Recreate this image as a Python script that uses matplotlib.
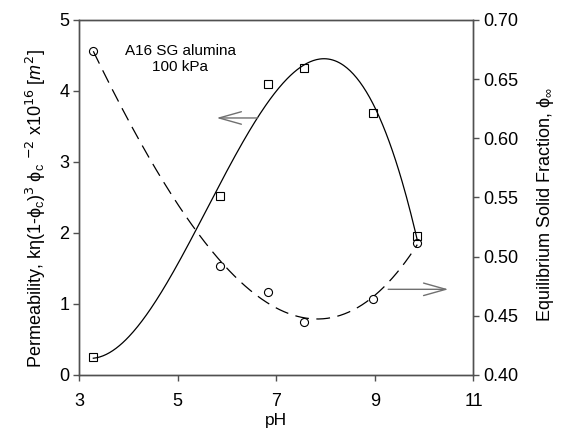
import numpy as np
import matplotlib
matplotlib.use("Agg")
import matplotlib.pyplot as plt

plt.rcParams['font.family'] = ['Liberation Sans', 'DejaVu Sans']
plt.rcParams['mathtext.fontset'] = 'custom'
plt.rcParams['mathtext.rm'] = 'Liberation Sans'
plt.rcParams['mathtext.it'] = 'Liberation Sans:italic'
plt.rcParams['mathtext.bf'] = 'Liberation Sans:bold'

# Data
ph = [3.29, 5.85, 6.84, 7.56, 8.97, 9.86]
permeability = [0.25, 2.52, 4.10, 4.32, 3.69, 1.96]
solid_fraction = [0.674, 0.492, 0.470, 0.4445, 0.464, 0.5115]
x_ticks = [3, 5, 7, 9, 11]
left_ticks = [0, 1, 2, 3, 4, 5]
right_ticks = [0.40, 0.45, 0.50, 0.55, 0.60, 0.65, 0.70]

fig = plt.figure(figsize=(5.62, 4.29), dpi=100)
ax = fig.add_axes([0.1406, 0.1259, 0.7019, 0.8275])
ax2 = ax.twinx()

spine_col = '#505050'

# fitted curves (least-squares polynomials through the data)
xs = np.linspace(min(ph), max(ph), 300)
p1 = np.polyfit(ph, permeability, 3)
p2 = np.polyfit(ph, solid_fraction, 3)
ax.plot(xs, np.polyval(p1, xs), color='black', lw=0.9)
ax.plot(ph, permeability, linestyle='none', marker='s', ms=5.4,
        mfc='none', mec='black', mew=0.8)
ax2.plot(xs, np.polyval(p2, xs), color='black', lw=0.9, dashes=(11, 6))
ax2.plot(ph, solid_fraction, linestyle='none', marker='o', ms=5.8,
         mfc='none', mec='black', mew=0.8)

ax.set_xlim(3, 11)
ax.set_ylim(0, 5)
ax2.set_ylim(0.40, 0.70)
ax.set_xticks(x_ticks)
ax.set_yticks(left_ticks)
ax2.set_yticks(right_ticks)
ax2.set_yticklabels([f"{v:.2f}" for v in right_ticks])

for a in (ax, ax2):
    for s in a.spines.values():
        s.set_color(spine_col)
        s.set_linewidth(1.0)
    a.tick_params(direction='out', length=4, width=1.0, color=spine_col,
                  labelsize=13, pad=3)
ax.tick_params(axis='x', pad=9)

ax.set_xlabel('pH', fontsize=12.5, labelpad=2)
ax.set_ylabel(r'Permeability, kη(1-ϕ$_{\rm c}$)$^{\mathsf{3}}$ ϕ$_{\rm c}$ $^{\mathsf{-2}}$ x10$^{\mathsf{16}}$ [$m^{\mathsf{2}}$]',
              fontsize=13, labelpad=8)
ax.yaxis.label.set_y(0.47)
ax2.set_ylabel(r'Equilibrium Solid Fraction, ϕ$_\infty$', fontsize=13, labelpad=12)
ax2.yaxis.label.set_y(0.48)

ax.text(5.05, 4.45, 'A16 SG alumina\n100 kPa', ha='center', va='center',
        fontsize=11, linespacing=1.15)

arrow_col = '#707070'
ax.annotate('', xy=(5.79, 3.62), xytext=(6.62, 3.62),
            arrowprops=dict(arrowstyle='->,head_length=1.6,head_width=0.45',
                            color=arrow_col, lw=1.0, shrinkA=0, shrinkB=0))
ax2.annotate('', xy=(10.49, 0.4724), xytext=(9.27, 0.4724),
             arrowprops=dict(arrowstyle='->,head_length=1.6,head_width=0.45',
                             color=arrow_col, lw=1.0, shrinkA=0, shrinkB=0))

fig.savefig('out.png', dpi=100)
